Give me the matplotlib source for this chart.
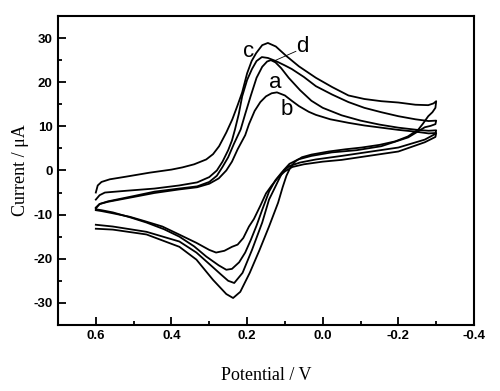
import matplotlib
matplotlib.use("Agg")
import matplotlib.pyplot as plt
from matplotlib.ticker import MultipleLocator, FormatStrFormatter

plt.rcParams["axes.unicode_minus"] = False

# cyclic voltammograms: forward sweep 0.6 -> -0.3 V, then back to 0.6 V
E_c = [0.600, 0.595, 0.585, 0.563, 0.520, 0.458, 0.400, 0.371, 0.340, 0.308, 0.290, 0.274,
       0.255, 0.239, 0.225, 0.213, 0.200, 0.188, 0.176, 0.160, 0.145, 0.124, 0.097, 0.063,
       0.018, -0.025, -0.068, -0.110, -0.155, -0.200, -0.245, -0.279, -0.293, -0.300,
       -0.298, -0.290, -0.279, -0.265, -0.253, -0.225, -0.192, -0.150, -0.103, -0.060,
       -0.016, 0.030, 0.055, 0.072, 0.085, 0.096, 0.106, 0.118, 0.142, 0.167, 0.193, 0.218,
       0.237, 0.255, 0.290, 0.334, 0.379, 0.466, 0.555, 0.600]
I_c = [-5.0, -3.4, -2.6, -2.0, -1.4, -0.5, 0.2, 0.7, 1.4, 2.5, 3.7, 5.5,
       8.6, 11.6, 14.8, 17.7, 22.0, 24.8, 26.6, 28.4, 28.9, 28.1, 26.0, 23.6,
       21.0, 18.9, 17.0, 16.2, 15.7, 15.4, 14.9, 14.8, 15.2, 15.7,
       14.2, 13.2, 12.3, 10.6, 9.3, 7.7, 6.6, 5.8, 5.2, 4.8,
       4.3, 3.6, 3.0, 2.1, 0.8, -1.2, -3.8, -7.3, -12.7, -18.0, -23.2, -27.5,
       -28.9, -28.0, -24.8, -20.2, -17.3, -14.5, -13.4, -13.2]

E_d = [0.600, 0.590, 0.576, 0.520, 0.445, 0.380, 0.332, 0.300, 0.280, 0.265, 0.250, 0.240,
       0.232, 0.222, 0.213, 0.200, 0.187, 0.175, 0.161, 0.145, 0.124, 0.100, 0.082, 0.050,
       0.018, -0.025, -0.068, -0.110, -0.155, -0.200, -0.245, -0.280, -0.300,
       -0.298, -0.285, -0.270, -0.226, -0.155, -0.090, -0.024, 0.030, 0.065, 0.088, 0.104,
       0.117, 0.130, 0.142, 0.160, 0.187, 0.212, 0.234, 0.250, 0.270, 0.292, 0.334, 0.379,
       0.466, 0.555, 0.600]
I_d = [-6.6, -5.6, -5.0, -4.6, -4.1, -3.4, -2.7, -1.5, 0.0, 2.0, 4.6, 6.8,
       9.3, 12.8, 16.8, 20.5, 23.0, 24.8, 25.7, 25.5, 24.8, 23.8, 23.0, 21.2,
       19.1, 17.2, 15.5, 14.2, 13.2, 12.3, 11.6, 11.2, 11.3,
       10.5, 10.1, 9.8, 7.5, 5.5, 4.6, 4.1, 3.3, 2.5, 1.5, 0.0,
       -2.2, -4.5, -6.6, -11.8, -18.0, -23.2, -25.5, -25.0, -23.5, -21.8, -18.6, -16.1,
       -13.9, -12.7, -12.3]

E_a = [0.600, 0.590, 0.568, 0.500, 0.445, 0.380, 0.332, 0.300, 0.280, 0.265, 0.250, 0.235,
       0.217, 0.205, 0.190, 0.175, 0.160, 0.147, 0.137, 0.125, 0.110, 0.090, 0.060, 0.030,
       0.000, -0.050, -0.100, -0.150, -0.200, -0.250, -0.280, -0.300,
       -0.298, -0.270, -0.200, -0.113, -0.050, 0.018, 0.060, 0.088, 0.108, 0.125, 0.142, 0.160,
       0.175, 0.190, 0.205, 0.221, 0.240, 0.255, 0.275, 0.308, 0.340, 0.379, 0.420,
       0.466, 0.510, 0.555, 0.585, 0.600]
I_a = [-8.6, -7.6, -7.0, -5.8, -4.8, -4.1, -3.6, -2.6, -1.2, 0.8, 3.0, 6.0,
       9.3, 12.8, 17.0, 21.0, 23.5, 24.7, 25.0, 24.5, 23.2, 21.0, 18.2, 15.8,
       14.2, 12.5, 11.3, 10.4, 9.7, 9.2, 9.0, 9.1,
       8.3, 7.0, 5.2, 4.1, 3.3, 2.5, 1.8, 1.0, -0.4, -2.2, -4.8, -8.9,
       -12.5, -15.7, -18.6, -20.8, -22.3, -22.5, -21.5, -19.5, -17.2, -15.0, -13.3,
       -11.8, -10.6, -9.5, -9.0, -8.8]

E_b = [0.600, 0.590, 0.568, 0.500, 0.445, 0.380, 0.332, 0.300, 0.275, 0.255, 0.240, 0.225,
       0.205, 0.195, 0.180, 0.165, 0.150, 0.135, 0.121, 0.100, 0.082, 0.063, 0.037, 0.018,
       -0.020, -0.068, -0.110, -0.155, -0.200, -0.245, -0.280, -0.300,
       -0.298, -0.270, -0.200, -0.113, -0.050, 0.000, 0.050, 0.080, 0.100, 0.118, 0.135, 0.150,
       0.165, 0.182, 0.195, 0.210, 0.225, 0.240, 0.260, 0.282, 0.300, 0.334, 0.380,
       0.424, 0.470, 0.510, 0.555, 0.585, 0.600]
I_b = [-8.4, -7.6, -7.1, -6.0, -5.1, -4.3, -3.8, -3.0, -1.8, 0.0, 2.0, 4.8,
       8.0, 10.5, 13.5, 15.5, 16.8, 17.5, 17.7, 17.0, 15.8, 14.6, 13.3, 12.6,
       11.6, 10.8, 10.2, 9.7, 9.2, 8.8, 8.4, 8.5,
       7.6, 6.4, 4.3, 3.2, 2.4, 2.0, 1.4, 0.8, -0.2, -1.6, -3.4, -5.2,
       -8.0, -11.0, -12.7, -15.3, -16.8, -17.3, -18.2, -18.6, -18.0, -16.4, -14.5,
       -12.7, -11.5, -10.5, -9.7, -9.2, -9.0]

curves = [(E_a, I_a), (E_b, I_b), (E_c, I_c), (E_d, I_d)]

labels = ["c", "d", "a", "b"]
label_E = [0.195, 0.055, 0.126, 0.095]
label_I = [27.0, 28.0, 20.0, 13.9]

fig = plt.figure(figsize=(5.0, 3.91), dpi=100)
ax = fig.add_axes([0.116, 0.169, 0.832, 0.790])

for E, I in curves:
    ax.plot(E, I, color="black", linewidth=1.3)

for t, x, y in zip(labels, label_E, label_I):
    ax.text(x, y, t, fontsize=16, family="Liberation Sans", ha="center", va="center")
# leader line for d
ax.plot([0.071, 0.129], [27.0, 24.8], color="black", linewidth=0.6)

ax.set_xlim(0.7, -0.4)
ax.set_ylim(-35, 35)
ax.xaxis.set_major_locator(MultipleLocator(0.2))
ax.xaxis.set_minor_locator(MultipleLocator(0.1))
ax.yaxis.set_major_locator(MultipleLocator(10))
ax.yaxis.set_minor_locator(MultipleLocator(5))
ax.xaxis.set_major_formatter(FormatStrFormatter("%.1f"))
ax.yaxis.set_major_formatter(FormatStrFormatter("%d"))

ax.tick_params(which="both", direction="in", top=False, right=False, width=1.3)
ax.tick_params(which="major", length=5.5, pad=4)
ax.tick_params(which="minor", length=3)
for lab in ax.get_xticklabels() + ax.get_yticklabels():
    lab.set_fontfamily("Liberation Sans")
    lab.set_fontweight("bold")
    lab.set_fontsize(9.5)
for s in ax.spines.values():
    s.set_linewidth(1.5)

ax.set_xlabel("Potential / V", family="Liberation Serif", fontsize=13, labelpad=18)
ax.set_ylabel("Current / μA", family="Liberation Serif", fontsize=13, labelpad=3)

fig.savefig("out.png", dpi=100)
